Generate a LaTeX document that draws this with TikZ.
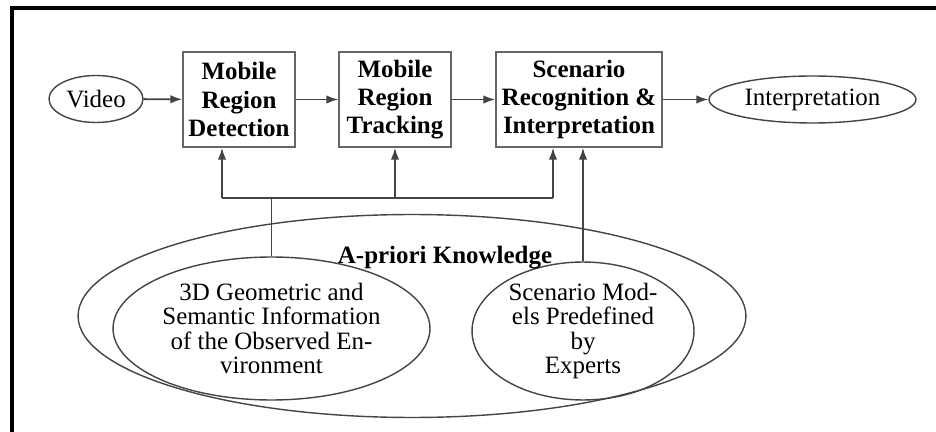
\documentclass[tikz,border=0pt]{standalone}
\usepackage{fontspec}
\setmainfont{Liberation Serif}
\usepackage{tikz}
\usetikzlibrary{shapes.geometric,arrows.meta}

\definecolor{linegray}{HTML}{444444}
\definecolor{boxgray}{HTML}{666666}

\tikzset{
  procbox/.style={draw=boxgray,line width=0.75pt,inner sep=0pt,align=center,
    font=\fontsize{14.2}{16}\selectfont\bfseries},
  oval/.style={draw=linegray,ellipse,line width=0.8pt,inner sep=0pt,align=center,
    font=\fontsize{14.2}{13.8}\selectfont},
  link/.style={draw=linegray,line width=1.05pt},
  >={Latex[length=2.4mm,width=1.7mm]}
}

\begin{document}
\begin{tikzpicture}[x=0.02cm,y=-0.02cm]
    \useasboundingbox (0,0) rectangle (936,432);
    % frame of the page
    \draw[line width=2.2pt] (12,432) -- (12,8) -- (936,8);

    \node[oval,minimum width=1.88cm,minimum height=0.94cm] (video) at (96,99) {Video};
    \node[procbox,minimum width=2.24cm,minimum height=1.9cm] (det) at (239,99.5)
      {Mobile\\Region\\Detection};
    \node[procbox,minimum width=2.24cm,minimum height=1.9cm] (trk) at (395,99.5)
      {Mobile\\Region\\Tracking};
    \node[procbox,minimum width=3.32cm,minimum height=1.9cm] (scn) at (579,99.5)
      {Scenario\\Recognition \&\\Interpretation};
    \node[oval,minimum width=4.14cm,minimum height=0.94cm] (interp) at (812.5,99.5)
      {Interpretation};

    % knowledge
    \node[oval,minimum width=13.36cm,minimum height=4.06cm] (know) at (412,316) {};
    \node[oval,minimum width=6.34cm,minimum height=2.86cm] (geo) at (271.5,328.5)
      {3D Geometric and\\Semantic Information\\of the Observed En-\\vironment};
    \node[oval,minimum width=4.44cm,minimum height=2.76cm] (mdl) at (583,331)
      {Scenario Mod-\\els Predefined\\by\\Experts};
    \node[font=\fontsize{14.2}{16}\selectfont\bfseries] (kname) at (445,258)
      {A-priori Knowledge};

    \draw[link,->] (video) -- (det);
    \draw[link,->] (det) -- (trk);
    \draw[link,->] (trk) -- (scn);
    \draw[link,->] (scn) -- (interp);

    \coordinate (b1) at (222,198);
    \coordinate (b3) at (553,198);
    \draw[link] (b1) -- (b3);
    \draw[link] (geo.north) -- (geo.north |- b1);
    \draw[link,->] (b1) -- (b1 |- det.south);
    \draw[link,->] (b1 -| trk.south) -- (trk.south);
    \draw[link,->] (b3) -- (b3 |- scn.south);
    \draw[link,->] (mdl.north) -- (mdl.north |- scn.south);
\end{tikzpicture}
\end{document}
